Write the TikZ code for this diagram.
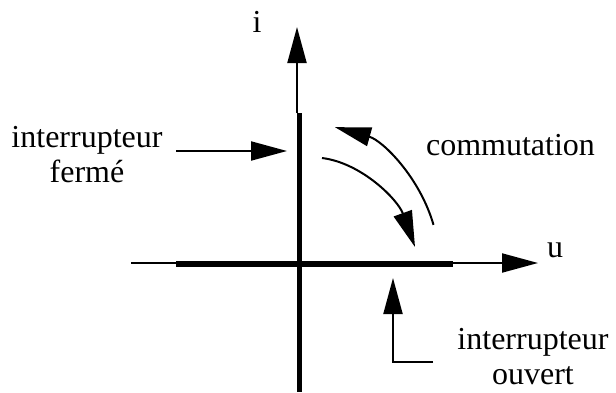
\documentclass[tikz,border=0pt]{standalone}
\usepackage{fontspec}
\setmainfont{Liberation Serif}
\usetikzlibrary{arrows.meta}
\begin{document}
\begin{tikzpicture}[x=1pt,y=-1pt,
  thinline/.style={line width=2pt},
  thickline/.style={line width=5.5pt},
  arr/.style={-{Triangle[length=36pt,width=19pt]}},
  lbl/.style={inner sep=0pt,anchor=base,font=\fontsize{32}{35}\selectfont,align=center}]
\useasboundingbox (0,0) rectangle (616,392);
% axes
\coordinate (ibot) at (297,113);
\coordinate (itop) at (297,27);
\coordinate (tv1) at (299.5,113);
\coordinate (tv2) at (299.5,392);
\coordinate (ul) at (131,263);
\coordinate (ur) at (538,263);
\coordinate (th1) at (176,264);
\coordinate (th2) at (453,264);
\draw[thinline,arr] (ibot) -- (itop);
\draw[thickline] (tv1) -- (tv2);
\draw[thinline,arr] (ul) -- (ur);
\draw[thickline] (th1) -- (th2);
% labels
\node[lbl] (ilab) at (257,32) {i};
\node[lbl] (ulab) at (555,257) {u};
\node[lbl] (ferme) at (87,182) {interrupteur\\fermé};
\node[lbl] (ouvert) at (533,384) {interrupteur\\ouvert};
\node[lbl] (comm) at (510.5,155) {commutation};
% fermé arrow
\coordinate (f1) at (176,151);
\coordinate (f2) at (287,151);
\draw[thinline,arr] (f1) -- (f2);
% ouvert arrow
\coordinate (o1) at (433,362);
\coordinate (o2) at (393,362);
\coordinate (o3) at (393,278);
\draw[thinline,arr] (o1) -- (o2) -- (o3);
% commutation arcs
\coordinate (origin) at (297,264);
\draw[thinline,arr] ([shift={(-16:142)}]origin) arc[start angle=-16,end angle=-74.5,radius=142];
\coordinate (c1) at (322,158);
\coordinate (c2) at (415,247);
\draw[thinline,arr] (c1) .. controls (362,163) and (398,200) .. (c2);
\end{tikzpicture}
\end{document}
